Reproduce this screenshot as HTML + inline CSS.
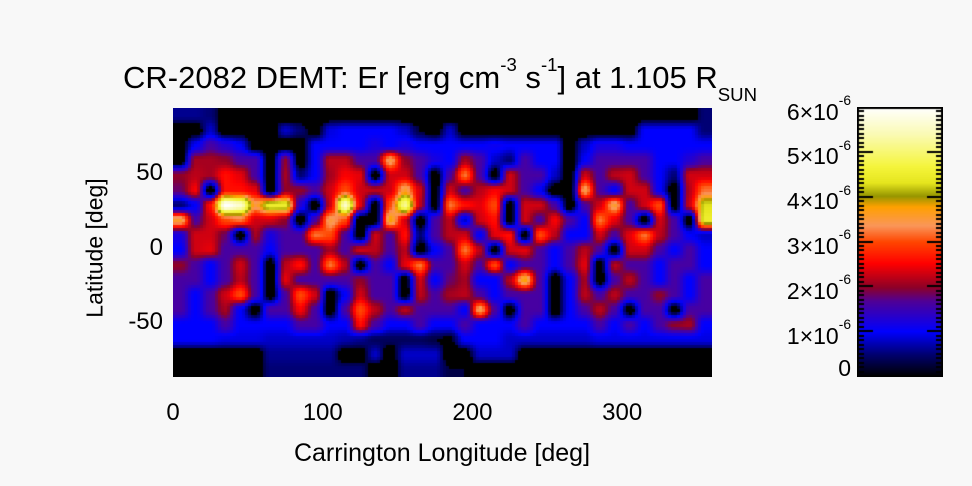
<!DOCTYPE html>
<html><head><meta charset="utf-8">
<style>
body{margin:0;background:#f8f8f8;}
#wrap{position:relative;width:972px;height:486px;background:#f8f8f8;font-family:"Liberation Sans",sans-serif;color:#000;overflow:hidden}
.t{position:absolute;white-space:nowrap;line-height:1}
sup,sub{font-size:60%;line-height:0}
</style></head><body>
<div id="wrap">
<div class="t" style="left:123px;top:62px;font-size:31px">CR-2082 DEMT: Er [erg cm<sup style="position:relative;top:-6px">-3</sup> s<sup style="position:relative;top:-6px">-1</sup>] at 1.105 R<sub style="position:relative;top:6px">SUN</sub></div>
<canvas id="map" width="539" height="269" style="position:absolute;left:173px;top:108px"></canvas>
<canvas id="cbar" width="86" height="270" style="position:absolute;left:857px;top:107px"></canvas>
<div class="t" style="left:95px;top:248px;font-size:23px;transform:translate(-50%,-50%) rotate(-90deg)">Latitude [deg]</div>
<div class="t" style="left:442px;top:441px;font-size:25px;transform:translateX(-50%)">Carrington Longitude [deg]</div>
<div id="labels"></div>
</div>
<script>
const lonTicks=[0,100,200,300];
const latTicks=[50,0,-50];
const cbTicks=[0,1,2,3,4,5,6];
const cbLabels=["0","1×10","2×10","3×10","4×10","5×10","6×10"];
const cbMax=6;
// rows from lat 90 down to -90, 10° cells, values in 1e-6
const row0=[0.6,0.6,0.5,0,0,0,0,0,0,0,0,0,0,0,0,0,0,0,0,0,0,0,0,0,0,0,0,0,0,0,0,0,0,0,0,0.5];
const row1=[0,0,0.8,0,0,0,0,0.8,0.5,0,0.9,1,1,1,1,0.8,0.3,0,0.8,0,0,0,0,0,0,0,0,0,0,0,0,1,1,1,1,0.5];
const row2=[0,1,1.6,1.3,1,0,0,0,0,1,1,1,1,1.2,1,1.2,1,1,1,1,1,1.1,1,1,1,1,0,0.8,1.2,1.2,1,1,1,1,1,1];
const row3=[0,2.1,2.1,2.0,1.6,1.6,0,2.0,0,1,2.2,2.2,1.6,1.6,3.5,2.0,1.6,1.2,1,2.1,1.6,0.8,0.5,1.6,1,1,0,1,1.6,1.6,1.6,1.6,1,1,1.3,1.6];
const row4=[2,2.2,2.1,2.6,2.4,1.6,0,2.1,0.5,1,2.1,2.5,2.4,0,2.3,2.3,1.6,0,1.6,3.2,1.6,0,2.3,1.6,1.6,0.8,0,2.3,1.6,2.2,2.3,1.6,1,0.5,2.3,2.3];
const row5=[1.8,2.5,0,2.6,2.6,2.4,0,2,2.0,1.6,2.3,3,2.3,2.2,2.3,3.6,2.3,0,2.3,1.6,2.2,2.5,2.3,1.6,1,0,0,3.5,1.6,1,2.3,2.3,1,0,2.2,3.2];
const row6=[0.5,1,2.6,6,5.6,3.5,4.5,4.5,1.3,0,2.3,5.6,2.4,0,3,5.2,2.2,0,3.2,2.6,2.4,3,0,2.3,2.3,1.6,0,1.6,2.3,3.6,1.6,2.3,3,0,2.3,4.3];
const row7=[3.6,1.6,2.3,3,3.2,2.3,2.3,2,0,1.6,3.5,3,0,0,3.8,2.3,0,1.6,2.2,0.8,2.3,2.6,0,2.3,1.6,2.5,1.6,1,3.2,2.4,1.6,0,2.3,1.6,0,4.5];
const row8=[1.2,2.3,2.3,1.8,0,2.1,1.2,1.6,1.6,3.2,3,1.6,0,2.3,1.6,2.6,0.5,1.6,2.2,2.3,1,2.4,2.6,0,3,2.2,1,1,2.3,1.6,2.4,3.2,2.2,1.6,1,0.8];
const row9=[1,2.3,2.4,1.6,1.6,1.6,1,1.6,1.6,1.6,2.1,1.6,2.3,2.2,1.6,2.2,0,1,1.6,3.2,2.2,0,2.3,2.4,1.6,1,1.6,2.2,1.6,0,2.3,2.3,1.6,1,1.6,1];
const row10=[2.0,1.6,1,1.6,2.3,1.6,0,2.2,2.6,1.6,3.2,2.2,0,1.6,1,2.4,3.2,1.6,1.6,2.3,1.6,3,1,1.6,1.6,1,1.6,2.4,0,2.2,1.6,1.6,1,1.6,1.6,1];
const row11=[1.6,1.6,1,1.6,2.2,1.6,0,2.4,1.6,1.6,1.6,1.6,2.0,1.6,1.6,0,2.3,1,1.8,2.1,1,1,2.2,3.8,1.6,0,1,2.1,0,1.6,2.2,1.6,1,1.6,1,1.6];
const row12=[1.6,1,1.6,2.3,3,1.6,0,1.6,3,2.3,0,1,2.3,1.6,1.6,0,2.2,1.6,2.1,2.2,1.6,1,1.6,1.6,1.6,0,1,2.2,1.6,2.2,1.6,1.6,2.0,1.6,1,1.6];
const row13=[1.6,1,1.6,2.1,1,0,1.6,1.6,2.5,1.6,0,1.6,3,2.2,1.6,2.2,1.6,1.6,1.6,1,3.5,1.6,0,1.6,1.6,0,1,1.6,2.2,1.6,0,1.6,1.6,0,1.6,1.6];
const row14=[1,1,1,1.6,1,1,1,1,1.6,1.6,1,1,2.6,1.6,1,1,1.6,1,1,1.6,1,1,1,1.6,1,1,1,1,1.6,1,1.6,1,1.6,2.0,2.1,1];
const row15=[1,1,1,0.9,0.9,0.9,0.8,0.8,0.8,0.8,0.8,0.7,0.6,0.4,0.4,0.4,0.4,0.3,0.2,1,1,1,0.8,0.8,0.8,0.8,0.8,0.8,0.9,0.9,0.9,0.9,0.9,0.9,0.9,0.9];
const row16=[0,0,0,0,0,0,0.6,0.6,0.6,0.6,0.6,0,0,0.8,0,0.8,0.8,0.8,0,0,0.8,0.8,0.8,0,0,0,0,0,0,0,0,0,0,0,0,0];
const row17=[0,0,0,0,0,0,0.5,0.5,0.5,0.5,0.5,0.5,0.5,0,0,0.6,0.6,0.6,0.3,0.3,0,0,0,0,0,0,0,0,0,0,0,0,0,0,0,0];
const grid=[row0,row1,row2,row3,row4,row5,row6,row7,row8,row9,row10,row11,row12,row13,row14,row15,row16,row17];

const PX=173,PY=108,PW=539,PH=269;
const xScale=lon=>PX+lon/360*PW;
const yScale=lat=>PY+(90-lat)/180*PH;
const stops=[[0,0,0,0],[0.08,0,0,110],[0.167,0,0,255],[0.28,80,0,150],[0.33,140,0,40],[0.42,255,0,0],[0.5,255,70,0],[0.56,250,150,90],[0.63,255,160,0],[0.67,150,150,0],[0.72,230,230,30],[0.78,245,245,60],[0.9,250,250,180],[1,255,255,255]];
function cmap(v){let f=Math.max(0,Math.min(1,v/cbMax));for(let i=1;i<stops.length;i++){if(f<=stops[i][0]){const a=stops[i-1],b=stops[i],t=(f-a[0])/(b[0]-a[0]);return [a[1]+(b[1]-a[1])*t,a[2]+(b[2]-a[2])*t,a[3]+(b[3]-a[3])*t];}}return [255,255,255];}
const ss=t=>t*t*(3-2*t);
function sample(lon,lat){const nr=grid.length,nc=grid[0].length;let cx=lon/10-0.5,cy=(90-lat)/10-0.5;cx=Math.max(0,Math.min(nc-1,cx));cy=Math.max(0,Math.min(nr-1,cy));const x0=Math.floor(cx),y0=Math.floor(cy),x1=Math.min(nc-1,x0+1),y1=Math.min(nr-1,y0+1),tx=ss(cx-x0),ty=ss(cy-y0);return grid[y0][x0]*(1-tx)*(1-ty)+grid[y0][x1]*tx*(1-ty)+grid[y1][x0]*(1-tx)*ty+grid[y1][x1]*tx*ty;}
const mc=document.getElementById('map').getContext('2d');
mc.fillStyle='#000';mc.fillRect(0,0,PW,PH);
const B=3;
for(let py=0;py<PH;py+=B){for(let px=0;px<PW;px+=B){const lon=(px+B/2)/PW*360,lat=90-(py+B/2)/PH*180;const v=sample(lon,lat);if(v<0.3)continue;const c=cmap(v);mc.fillStyle='rgb('+c.map(Math.round).join(',')+')';mc.fillRect(px,py,B,B);}}
const cc=document.getElementById('cbar').getContext('2d');
const CH=270,CW=86;
for(let y=0;y<CH;y++){const v=(CH-1-y)/(CH-1)*cbMax;const c=cmap(v);cc.fillStyle='rgb('+c.map(Math.round).join(',')+')';cc.fillRect(0,y,CW,1);}
cc.fillStyle='#000';
cc.fillRect(0,0,CW,2);cc.fillRect(0,CH-2,CW,2);cc.fillRect(0,0,2,CH);cc.fillRect(CW-2,0,2,CH);
for(let k=0;k<=60;k++){const y=Math.round(CH-1-k/60*(CH-1));const len=(k%10===0)?16:7;cc.fillRect(0,y-1,len,2);cc.fillRect(CW-len,y-1,len,2);}
const L=document.getElementById('labels');
function lab(txt,x,y,name,align,html,fs){const d=document.createElement('div');d.className='t';d.style.fontSize=fs+'px';if(html)d.innerHTML=txt;else d.textContent=txt;d.style.top=(y-fs/2)+'px';d.style.left=x+'px';if(align==='c')d.style.transform='translateX(-50%)';if(align==='r')d.style.transform='translateX(-100%)';


L.appendChild(d);}
lonTicks.forEach(v=>lab(String(v),xScale(v),413,'x-tick-label','c',false,24));
latTicks.forEach(v=>lab(String(v),163,yScale(v)+5,'y-tick-label','r',false,24));
cbTicks.forEach((v,i)=>{const y=107+(CH-1)*(1-v/cbMax);const txt=i===0?'0':cbLabels[i]+'<sup style="position:relative;top:-6px">-6</sup>';lab(txt,851,Math.min(y,368)+(i===0?0:5),'colorbar-tick-label','r',true,23);});
</script>
</body></html>
